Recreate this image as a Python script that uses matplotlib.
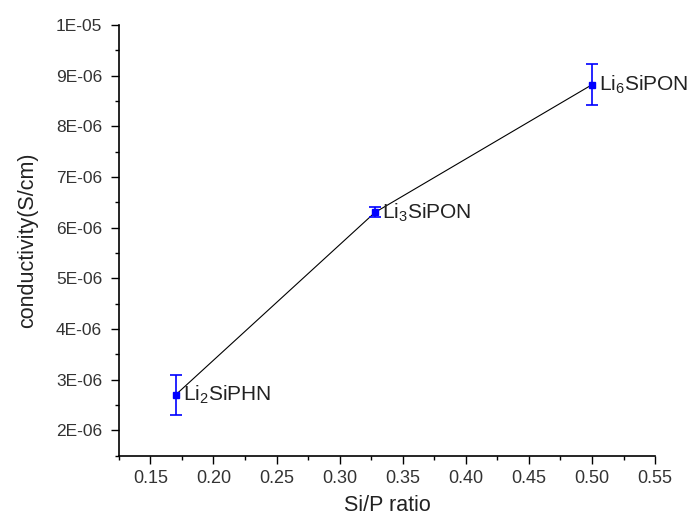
import matplotlib.pyplot as plt
import numpy as np
from matplotlib.ticker import FuncFormatter, MultipleLocator

plt.rcParams['font.family'] = ['Liberation Sans', 'DejaVu Sans']
plt.rcParams['mathtext.fontset'] = 'custom'
plt.rcParams['mathtext.rm'] = 'Liberation Sans'
plt.rcParams['mathtext.it'] = 'Liberation Sans:italic'

# Si/P ratio and conductivity (S/cm) with error
si_p = [0.17, 0.328, 0.50]
cond = [2.70e-06, 6.30e-06, 8.82e-06]
cond_err = [0.40e-06, 0.10e-06, 0.40e-06]
names = ['Li$_2$SiPHN', 'Li$_3$SiPON', 'Li$_6$SiPON']

fig = plt.figure(figsize=(6.91, 5.19), dpi=100)
ax = fig.add_axes([0.172, 0.122, 0.776, 0.830])

ax.plot(si_p, cond, color='black', linewidth=0.8, zorder=1)
ax.errorbar(si_p, cond, yerr=cond_err, fmt='s', color='#0000ff', markersize=4,
            elinewidth=1.2, capsize=4, capthick=1.2, zorder=2)

for x, y, n in zip(si_p, cond, names):
    ax.annotate(n, (x, y), xytext=(5, 0), textcoords='offset points',
                ha='left', va='center', fontsize=15, color='#222222')

ax.set_xlim(0.125, 0.55)
ax.set_ylim(1.5e-06, 1.0e-05)

ax.xaxis.set_major_locator(MultipleLocator(0.05))
ax.xaxis.set_minor_locator(MultipleLocator(0.025))
ax.yaxis.set_major_locator(MultipleLocator(1e-06))
ax.yaxis.set_minor_locator(MultipleLocator(0.5e-06))
ax.xaxis.set_major_formatter(FuncFormatter(lambda v, p: f'{v:.2f}' if v > 0.13 else ''))
ax.yaxis.set_major_formatter(FuncFormatter(lambda v, p: f'{v:.0E}' if v > 1.9e-06 else ''))
ax.yaxis.get_offset_text().set_visible(False)

ax.tick_params(which='major', direction='out', length=6, width=1, colors='black',
               labelcolor='#333333')
ax.tick_params(axis='x', which='major', labelsize=13, pad=4)
ax.tick_params(axis='y', which='major', labelsize=12.5, pad=6)
ax.tick_params(which='minor', direction='out', length=3, width=1)

for s in ['top', 'right']:
    ax.spines[s].set_visible(False)
for s in ['left', 'bottom']:
    ax.spines[s].set_linewidth(1.2)

ax.set_xlabel('Si/P ratio', fontsize=15.5, color='#222222', labelpad=6)
ax.set_ylabel('conductivity(S/cm)', fontsize=15.5, color='#222222', labelpad=13)

fig.savefig('out.png', dpi=100)
